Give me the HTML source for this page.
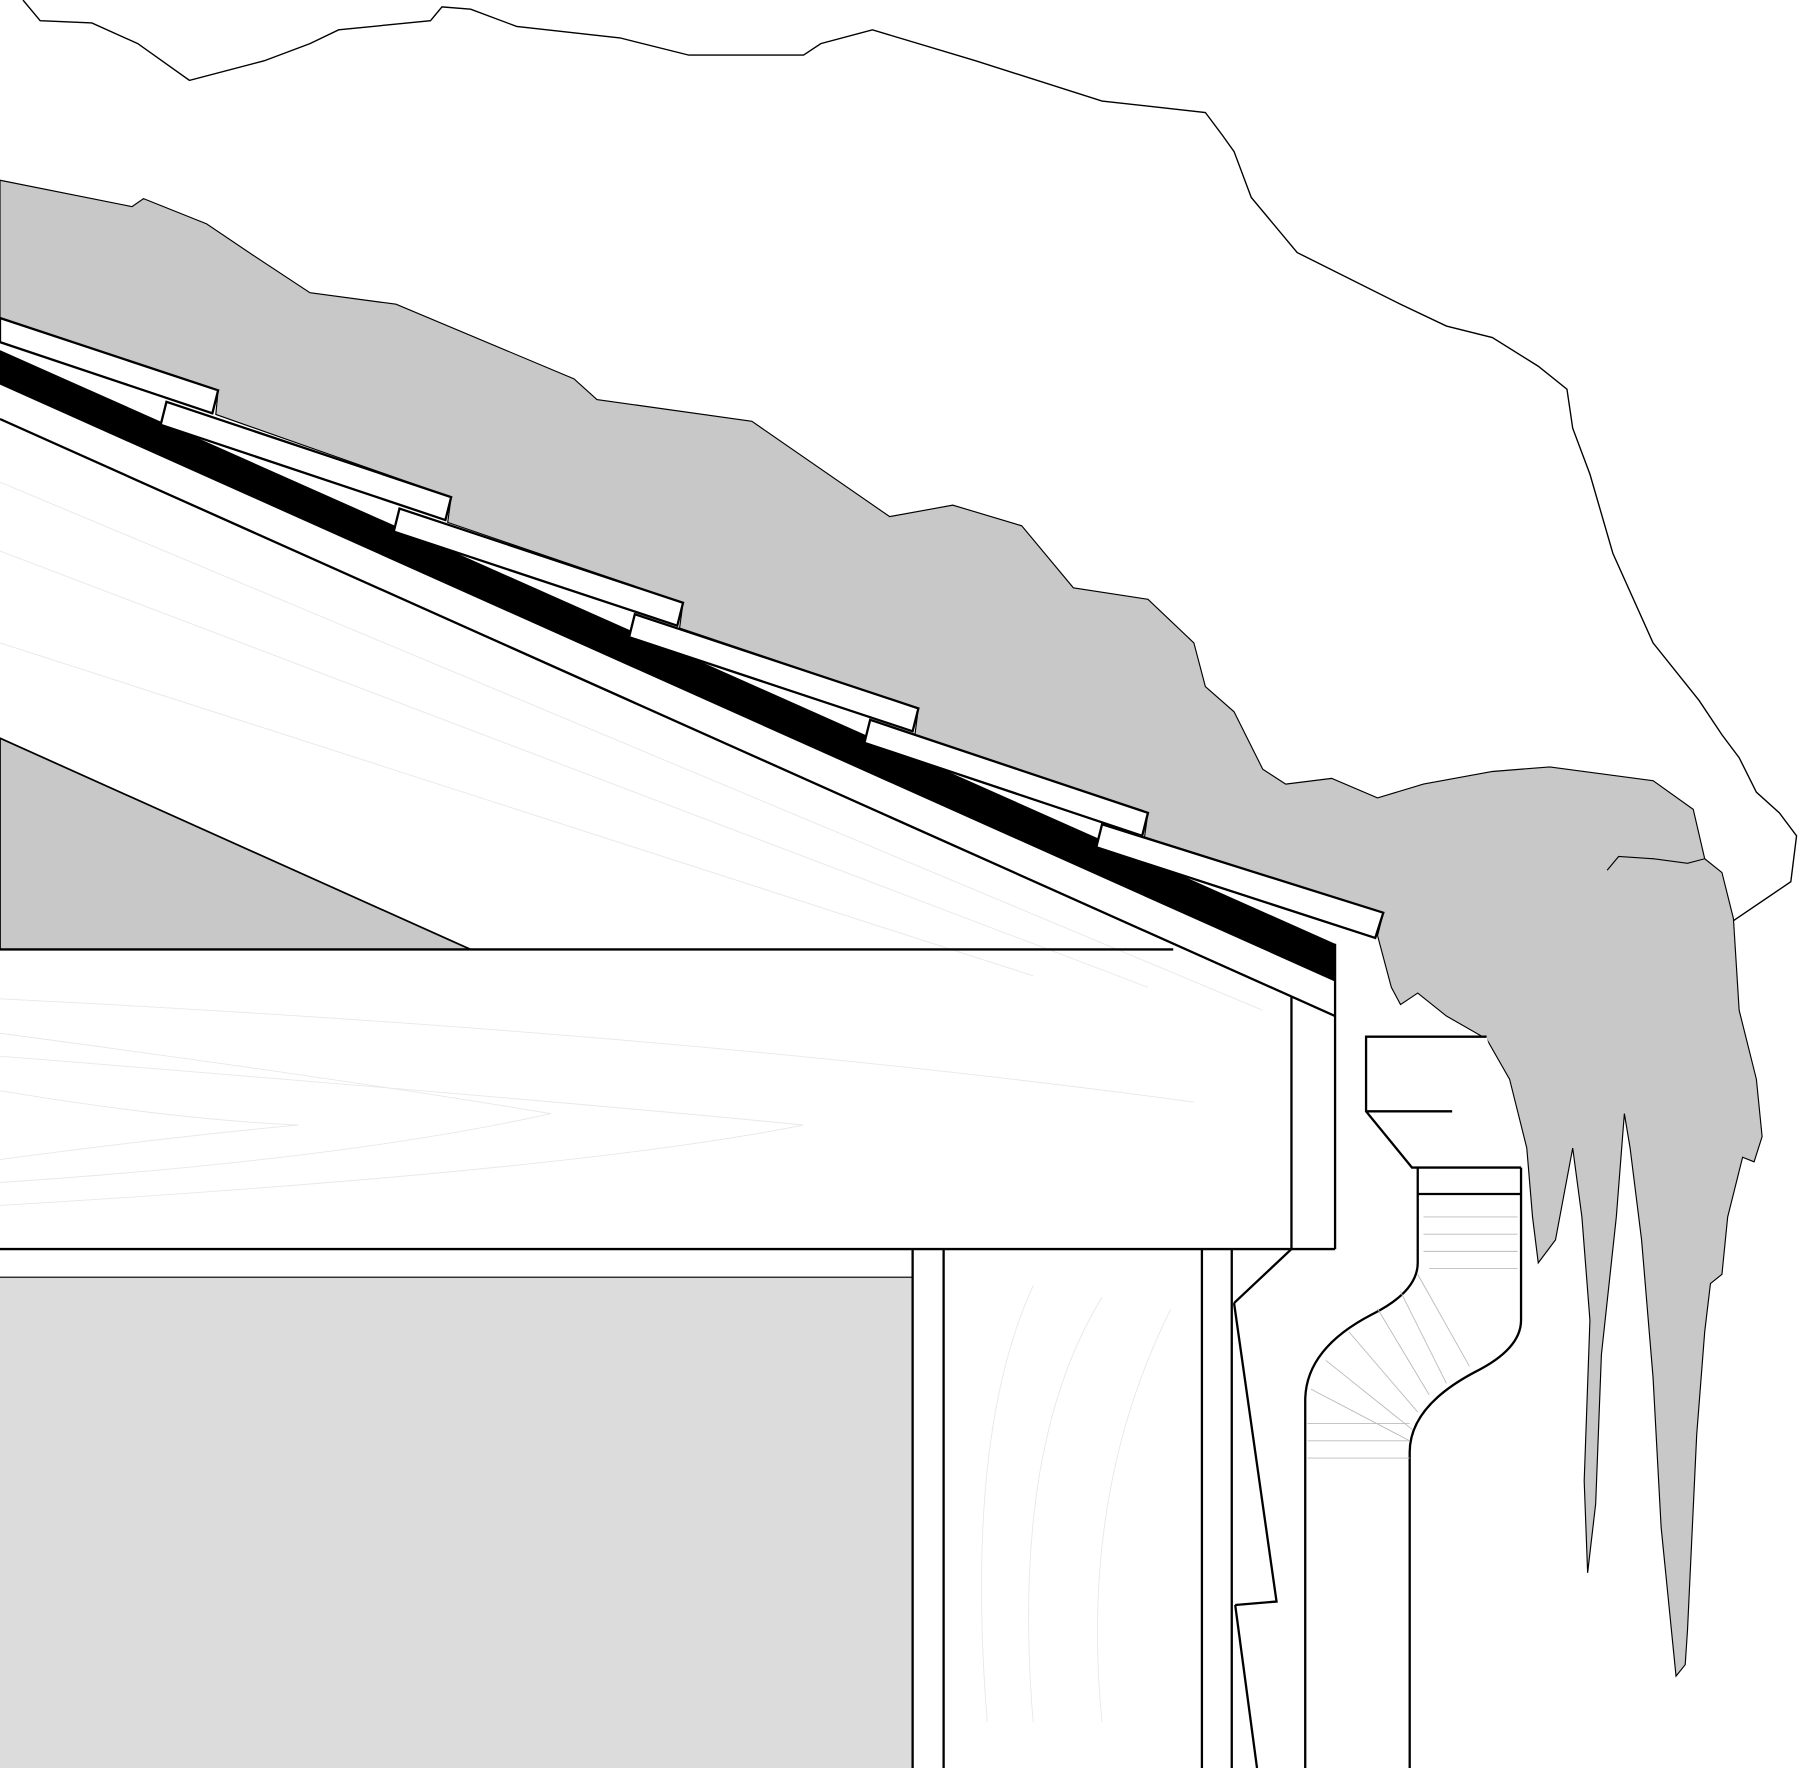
<!DOCTYPE html>
<html><head><style>html,body{margin:0;padding:0;background:#fff}svg{display:block}</style></head>
<body>
<svg width="1800" height="1768" viewBox="0 0 1568 1540" preserveAspectRatio="none" xmlns="http://www.w3.org/2000/svg">
<rect width="1568" height="1540" fill="#fff"/>
<!-- outer snow outline -->
<path d="M20,0 L35,18 L80,20 L120,38 L165,70 L230,53 L270,38 L295,26 L375,18 L385,6 L410,8 L450,23 L540,33 L600,48 L700,48 L715,38 L760,26 L850,53 L960,88 L1050,98 L1065,118 L1075,132 L1090,172 L1130,220 L1220,265 L1260,284 L1300,294 L1340,319 L1365,339 L1370,373 L1385,413 L1405,482 L1440,560 L1480,610 L1500,640 L1515,660 L1530,690 L1550,708 L1565,728 L1560,768 L1510,802" fill="none" stroke="#000" stroke-width="1.2"/>
<!-- gray snow on roof -->
<path d="M0,157 L115,180 L125,173 L180,195 L220,222 L270,255 L345,265 L500,330 L520,348 L655,367 L775,450 L830,440 L890,458 L935,512 L1000,522 L1040,560 L1050,598 L1075,620 L1100,670 L1120,683 L1160,678 L1200,695 L1240,683 L1300,672 L1350,668 L1440,680 L1475,705 L1485,748 L1500,760 L1510,800 L1515,880 L1530,940 L1535,990 L1528,1012 L1518,1008 L1505,1060 L1500,1110 L1490,1118 L1485,1160 L1478,1250 L1470,1420 L1468,1450 L1460,1460 L1455,1410 L1447,1330 L1440,1200 L1430,1080 L1420,1000 L1415,970 L1408,1060 L1395,1180 L1390,1310 L1383,1370 L1380,1290 L1385,1150 L1378,1060 L1370,1000 L1355,1080 L1340,1100 L1335,1060 L1330,1000 L1315,940 L1295,905 L1260,885 L1235,865 L1220,875 L1212,860 L1200,815 L1205,795 L997,729 L1000,708 L797,640 L800,617 L592,547 L595,525 L390,455 L393,433 L188,361 L190,340 L0,277 Z" fill="#c8c8c8" stroke="#000" stroke-width="1"/>
<path d="M1400,758 L1410,746 L1440,748 L1470,752 L1485,748" fill="none" stroke="#000" stroke-width="1"/>
<!-- rafter wood area -->
<g stroke="#e8e8e8" stroke-width="0.8" fill="none">
<path d="M0,420 L1100,880"/><path d="M0,480 L1000,860"/><path d="M0,560 L900,850"/><path d="M0,870 Q600,900 1040,960"/><path d="M0,920 Q500,960 700,980 Q500,1020 0,1050"/><path d="M0,900 Q300,940 480,970 Q300,1010 0,1030"/><path d="M0,950 Q150,975 260,980 Q150,990 0,1010"/>
<path d="M860,1500 Q840,1250 900,1120"/><path d="M900,1500 Q880,1260 960,1130"/><path d="M960,1500 Q940,1300 1020,1140"/>
</g>
<!-- gray triangle -->
<polygon points="0,643 410,827 0,827" fill="#c8c8c8" stroke="#000" stroke-width="1.5"/>
<!-- joist board -->
<line x1="0" y1="827" x2="1022" y2="827" stroke="#000" stroke-width="2"/>
<line x1="0" y1="1088" x2="1163" y2="1088" stroke="#000" stroke-width="2"/>
<line x1="0" y1="1113" x2="795" y2="1113" stroke="#000" stroke-width="2"/>
<rect x="0" y="1113" width="795" height="427" fill="#dcdcdc"/>
<!-- roof lines -->
<line x1="0" y1="365" x2="1163" y2="885" stroke="#000" stroke-width="2"/>
<polygon points="0,305 0,335 1163,855 1163,822" fill="#000"/>
<!-- shingles -->
<g stroke="#000" stroke-width="2" fill="#fff">
<polygon points="0,277 190,340 185,360 0,298"/>
<polygon points="145,350 393,433 388,453 140,370"/>
<polygon points="348,443 595,525 590,545 343,463"/>
<polygon points="553,535 800,617 795,637 548,555"/>
<polygon points="758,627 1000,708 995,728 753,647"/>
<polygon points="960,718 1205,795 1198,817 955,738"/>
</g>
<!-- fascia -->
<line x1="1163" y1="822" x2="1163" y2="1088" stroke="#000" stroke-width="2"/>
<line x1="1125" y1="868" x2="1125" y2="1088" stroke="#000" stroke-width="2"/>
<!-- wall verticals -->
<g stroke="#000" stroke-width="2" fill="none">
<line x1="795" y1="1088" x2="795" y2="1540"/><line x1="822" y1="1088" x2="822" y2="1540"/>
<line x1="1047" y1="1088" x2="1047" y2="1540"/><line x1="1073" y1="1088" x2="1073" y2="1540"/>
<path d="M1125,1088 L1075,1135"/>
<path d="M1075,1135 L1112,1395 L1076,1398"/>
<path d="M1076,1398 L1095,1540"/>
</g>
<!-- gutter -->
<g stroke="#000" stroke-width="2" fill="#fff">
<path d="M1295,903 L1190,903 L1190,968 L1230,1017 L1325,1017"/>
<line x1="1190" y1="968" x2="1265" y2="968"/>
<path d="M1235,1017 L1235,1100 Q1235,1125 1195,1145 Q1137,1175 1137,1220 L1137,1540" fill="none"/>
<path d="M1325,1017 L1325,1150 Q1325,1175 1285,1195 Q1228,1225 1228,1265 L1228,1540" fill="none"/>
<line x1="1235" y1="1040" x2="1325" y2="1040"/>
</g>
<g stroke="#bbb" stroke-width="0.8">
<line x1="1240" y1="1060" x2="1322" y2="1060"/><line x1="1240" y1="1075" x2="1322" y2="1075"/><line x1="1240" y1="1090" x2="1322" y2="1090"/><line x1="1245" y1="1105" x2="1322" y2="1105"/>
<line x1="1235" y1="1110" x2="1280" y2="1190"/><line x1="1220" y1="1125" x2="1260" y2="1205"/><line x1="1200" y1="1140" x2="1245" y2="1215"/><line x1="1175" y1="1160" x2="1235" y2="1230"/><line x1="1155" y1="1185" x2="1230" y2="1245"/><line x1="1142" y1="1210" x2="1228" y2="1255"/>
<line x1="1139" y1="1240" x2="1228" y2="1240"/><line x1="1139" y1="1255" x2="1228" y2="1255"/><line x1="1139" y1="1270" x2="1228" y2="1270"/>
</g>
</svg>
</body></html>
